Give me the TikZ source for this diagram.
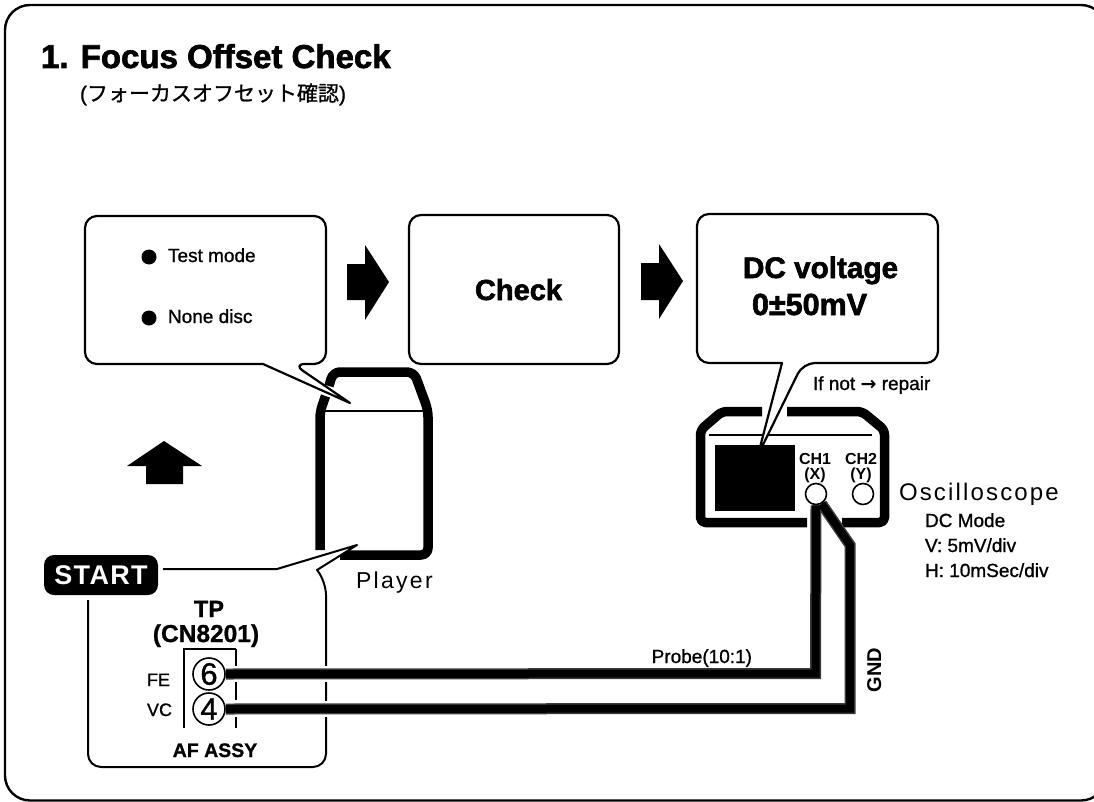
\documentclass[tikz,border=0pt]{standalone}
\usepackage{fontspec}
\setmainfont{Liberation Sans}
\newfontfamily\cjk[FakeBold=1]{Noto Sans CJK JP}
\newfontfamily\arrowfont{DejaVu Sans}
\newcommand\fz[1]{\fontsize{#1}{#1}\selectfont}
\newcommand\hv{\addfontfeature{FakeBold=1}}
\newcommand\hvv{\addfontfeature{FakeBold=2}}
\definecolor{wire}{HTML}{3C3C3C}
\tikzset{
  lbl/.style={inner sep=0pt,outer sep=0pt,anchor=base west},
  lblc/.style={inner sep=0pt,outer sep=0pt,anchor=base},
  bubble/.style={draw=black,fill=white,line width=2.2pt,line join=round},
  heavy/.style={draw=black,line width=9.5pt,line join=round},
  thinline/.style={draw=black,line width=1.6pt},
  wireedge/.style={draw=wire,line width=11pt,line join=miter},
  wirecore/.style={draw=black,line width=8pt,line join=miter},
  wirehalo/.style={draw=white,line width=16pt},
  pin/.style={circle,draw=black,fill=white,line width=1.6pt,minimum size=32pt,inner sep=0pt,font=\fz{31}\hv},
  port/.style={circle,draw=black,fill=white,line width=1.6pt,minimum size=21pt,inner sep=0pt},
  block/.style={fill=black}
}
\begin{document}
\begin{tikzpicture}[x=1pt,y=-1pt]
\useasboundingbox (0,0) rectangle (1094,802);
\fill[white] (0,0) rectangle (1094,802);
% outer frame
\draw[line width=2.4pt,rounded corners=25pt] (1106,30) -- (1106,5) -- (5,5) -- (5,800.5) -- (1106,800.5) -- (1106,770);
% title
\node[lbl,font=\bfseries\fz{33}\hvv] (title) at (41,68) {1. Focus Offset Check};
\node[lbl,font=\fz{21}\hv] (subtitle) at (80,101) {({\cjk フォーカスオフセット確認})};
% player
\draw[heavy,rounded corners=6pt] (320,550) -- (320,412) -- (325.5,396);
\draw[heavy,rounded corners=7pt] (329,386) -- (333,372) -- (414,372) -- (428,410) -- (428,555) -- (340,555);
\draw[thinline] (325,411) -- (423,411);
% oscilloscope
\draw[heavy,rounded corners=5pt] (807,522.5) -- (700.5,522.5) -- (700.5,430) -- (722,411.5) -- (762,411.5);
\draw[heavy,rounded corners=5pt] (787,411.5) -- (862,411.5) -- (884.5,430) -- (884.5,522.5) -- (842,522.5);
\draw[thinline] (709,435) -- (872,435);
\fill[block] (715,445) rectangle (795,511);
% callouts
\path[bubble] (263,364) [rounded corners=12pt] -- (85,364) -- (85,216) -- (326,216) -- (326,364) -- (293,364) [sharp corners] -- (350,403) -- cycle;
\node[draw=black,fill=white,line width=2.2pt,rounded corners=12pt,minimum width=210pt,minimum height=149pt,inner sep=0pt,outer sep=0pt] (check) at (514,289.5) {};
\path[bubble] (782,363) [rounded corners=12pt] -- (697,363) -- (697,214) -- (938,214) -- (938,363) -- (803,363) [sharp corners] -- (758,455) -- cycle;
% AF assy callout
\path[draw=black,fill=white,line width=2pt,line join=round] (88,600) [rounded corners=13pt] -- (88,767) -- (326,767) -- (326,582) [sharp corners] -- (317,570) -- (357,545) -- (277,569) -- (163,569);
\fill[white] (90,600) -- (163,571) -- (163,600) -- cycle;
% block arrows
\fill[block] (347,264) -- (365,264) -- (365,245) -- (389,282) -- (365,320) -- (365,300) -- (347,300) -- cycle;
\fill[block] (641,263) -- (659,263) -- (659,244) -- (683,281) -- (659,319) -- (659,300) -- (641,300) -- cycle;
\fill[block] (164,441) -- (202,466) -- (183,466) -- (183,484) -- (146,484) -- (146,466) -- (127,466) -- cycle;
% box texts
\fill (149,257) circle[radius=7.5pt];
\fill (149,318) circle[radius=7.5pt];
\node[lbl,font=\fz{19}\hv] (t1) at (168,262) {Test mode};
\node[lbl,font=\fz{19}\hv] (t2) at (168,323) {None disc};
\node[lbl,font=\bfseries\fz{29}\hvv] (t3) at (475,300) {Check};
\node[lbl,font=\bfseries\fz{29.7}\hvv] (t4) at (743,278) {DC voltage};
\node[lbl,font=\bfseries\fz{30.5}\hvv] (t5) at (752,315) {0±50mV};
\node[lbl,font=\fz{19}\hv] (t6) at (813,390) {If not {\arrowfont\bfseries →} repair};
% start
\node[fill=black,text=white,rounded corners=10pt,minimum width=114pt,minimum height=40pt,inner sep=0pt,font=\bfseries\fz{27}\addfontfeature{LetterSpace=5}] (start) at (101,575) {START};
% TP
\node[lblc,font=\bfseries\fz{23.5}\hv] (tp) at (209,617) {TP};
\node[lblc,font=\bfseries\fz{24.5}\hv] (cn) at (206,642) {(CN8201)};
\node[lbl,font=\fz{18}\hv] (fe) at (147,686) {FE};
\node[lbl,font=\fz{18}\hv] (vc) at (147,716) {VC};
\node[lblc,font=\bfseries\fz{19.5}\hv] (af) at (215,757) {AF ASSY};
\draw[line width=2.6pt] (184,728) -- (184,649) -- (236,649);
\draw[line width=2.6pt,dash pattern=on 22pt off 7pt] (236,649) -- (236,728);
\node[pin] (tp6) at (209,674) {6};
\node[pin] (tp4) at (209,709) {4};
% labels
\node[lbl,font=\fz{23}\addfontfeature{LetterSpace=10}] (pl) at (356,588) {Player};
\node[lbl,font=\fz{24}\addfontfeature{LetterSpace=9}] (os) at (899,500) {Oscilloscope};
\node[lbl,font=\fz{19}\hv] (o1) at (925,527) {DC Mode};
\node[lbl,font=\fz{19}\hv] (o2) at (925,552) {V: 5mV/div};
\node[lbl,font=\fz{19}\hv] (o3) at (925,577) {H: 10mSec/div};
\node[lblc,font=\bfseries\fz{16}] (c1) at (815,464) {CH1};
\node[lblc,font=\bfseries\fz{16}] (c1b) at (815,479) {(X)};
\node[lblc,font=\bfseries\fz{16}] (c2) at (861,464) {CH2};
\node[lblc,font=\bfseries\fz{16}] (c2b) at (861,479) {(Y)};
% ports
\node[port] (ch2) at (863,494) {};
\node[port] (ch1) at (816,494) {};
% wires
\coordinate (b1) at (815.5,673.5);
\coordinate (b2) at (850,708.5);
\coordinate (b3) at (850,545);
\draw[wirehalo] (tp6.east) -- (tp6.east -| b1);
\draw[wirehalo] (tp4.east) -- (tp4.east -| b2);
\draw[wireedge] (tp6.east) -- (b1) -- (ch1.south);
\draw[wireedge] (tp4.east) -- (b2) -- (b3) -- (ch1.-60);
\draw[wirecore] (tp6.east) -- (b1) -- (ch1.south);
\draw[wirecore] (tp4.east) -- (b2) -- (b3) -- (ch1.-60);
\node[lbl,anchor=base east,font=\fz{19}\hv] (pb) at (752,663) {Probe(10:1)};
\node[lblc,rotate=90,font=\bfseries\fz{20}] (gnd) at (881,670) {GND};
\end{tikzpicture}
\end{document}
